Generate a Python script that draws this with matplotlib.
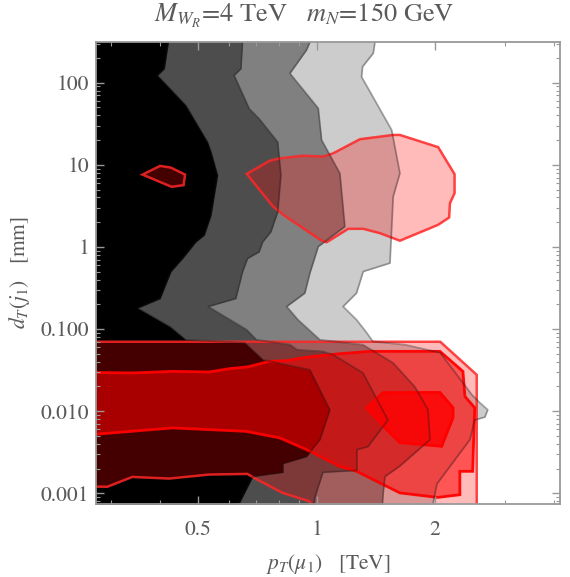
import matplotlib
matplotlib.use("Agg")
import matplotlib.pyplot as plt
from matplotlib.ticker import FixedLocator, NullFormatter

plt.rcParams['font.family'] = ['STIXGeneral', 'DejaVu Serif']
plt.rcParams['mathtext.fontset'] = 'stix'

# background shading: contour edges as (d_T [mm], p_T [TeV]) from top to bottom
b1_dT = [450, 313, 148, 123, 53.2, 19.0, 14.4, 7.48, 2.44, 1.39, 1.15, 0.722, 0.498, 0.235,
         0.180, 0.107, 0.074, 0.068, 0.0423, 0.0319, 0.0104, 0.0045, 0.0028, 0.0023, 0.0018,
         0.0016, 0.00078, 0.00055]
b1_pT = [0.420, 0.420, 0.410, 0.394, 0.465, 0.528, 0.539, 0.560, 0.539, 0.518, 0.493, 0.456,
         0.426, 0.400, 0.351, 0.424, 0.465, 0.657, 0.730, 0.961, 1.080, 1.019, 0.942, 0.821,
         0.821, 0.688, 0.638, 0.631]

b2_dT = [450, 313, 148, 123, 48.3, 36.5, 19.0, 7.48, 2.67, 1.53, 1.15, 0.871, 0.722, 0.498,
         0.235, 0.188, 0.142, 0.098, 0.074, 0.0644, 0.0560, 0.0533, 0.0487, 0.0293, 0.0078,
         0.0037, 0.0034, 0.0019, 0.0018, 0.00090, 0.00055]
b2_pT = [0.649, 0.648, 0.642, 0.617, 0.674, 0.714, 0.796, 0.811, 0.796, 0.765, 0.729, 0.714,
         0.667, 0.648, 0.623, 0.530, 0.584, 0.664, 0.703, 0.855, 0.891, 1.037, 1.099, 1.310,
         1.517, 1.349, 1.265, 1.265, 1.037, 0.990, 0.978]

b3_dT = [450, 313, 250, 130, 48.9, 20.1, 7.90, 1.77, 1.01, 0.480, 0.274, 0.188, 0.130, 0.074,
         0.0644, 0.0388, 0.0198, 0.0104, 0.0045, 0.00215, 0.0016, 0.0010, 0.00055]
b3_pT = [0.961, 0.961, 0.942, 0.855, 1.009, 1.029, 1.145, 1.179, 1.009, 0.961, 0.933, 0.839,
         0.896, 1.019, 1.310, 1.562, 1.775, 1.917, 1.940, 1.627, 1.491, 1.475, 1.463]

b4_dT = [450, 313, 228, 157, 118, 26.6, 7.90, 4.10, 0.635, 0.502, 0.274, 0.188, 0.130, 0.090,
         0.0706, 0.0644, 0.0514, 0.0158, 0.0126, 0.0104, 0.00847, 0.0078, 0.0045, 0.0013,
         0.00073, 0.00055]
b4_pT = [1.406, 1.406, 1.392, 1.308, 1.300, 1.550, 1.627, 1.564, 1.535, 1.313, 1.262, 1.167,
         1.262, 1.340, 1.389, 1.675, 2.06, 2.48, 2.60, 2.72, 2.675, 2.52, 2.45, 2.02, 1.973, 1.973]

gray_levels = ['#cccccc', '#808080', '#4d4d4d', '#000000']

# signal regions (red), closed polygons
small_pT = [0.361, 0.400, 0.426, 0.463, 0.459, 0.428]
small_dT = [7.60, 9.70, 9.25, 7.60, 5.65, 5.39]

upper_pT = [0.664, 0.760, 0.806, 0.924, 1.039, 1.101, 1.288, 1.564, 1.627, 2.035, 2.24, 2.24,
            2.18, 2.17, 2.035, 1.627, 1.448, 1.313, 1.202, 1.060, 1.029, 0.822, 0.775]
upper_dT = [7.75, 11.2, 12.0, 12.9, 12.6, 13.8, 20.5, 23.1, 23.1, 16.4, 7.69, 4.51,
            3.41, 2.28, 1.86, 1.19, 1.47, 1.66, 1.66, 1.14, 1.19, 2.46, 3.10]

outer_pT = [0.25, 2.06, 2.55, 2.55, 1.03, 0.957, 0.819, 0.700, 0.667, 0.533, 0.422, 0.340, 0.294, 0.25]
outer_dT = [0.070, 0.070, 0.0277, 0.0005, 0.0005, 0.00080, 0.00101, 0.0015, 0.00172, 0.00169,
            0.00151, 0.00158, 0.00120, 0.00121]

band_pT = [0.25, 0.340, 0.430, 0.533, 0.599, 0.667, 0.757, 0.835, 0.939, 1.124, 1.365, 2.056,
           2.352, 2.380, 2.52, 2.49, 2.31, 2.31, 2.03, 1.627, 1.473, 1.263, 1.145, 0.943,
           0.806, 0.661, 0.430, 0.25]
band_dT = [0.0297, 0.0292, 0.0305, 0.0300, 0.0329, 0.0345, 0.0404, 0.0411, 0.0452, 0.0497,
           0.0535, 0.0535, 0.0305, 0.0151, 0.0110, 0.00185, 0.00185, 0.00096, 0.00089, 0.00101,
           0.00128, 0.00185, 0.00213, 0.00340, 0.00472, 0.00568, 0.00625, 0.00504]

core_pT = [1.339, 1.473, 2.056, 2.22, 2.22, 2.077, 1.627, 1.505]
core_dT = [0.0109, 0.0168, 0.0169, 0.0110, 0.00834, 0.00373, 0.00414, 0.00596]

fig = plt.figure(figsize=(5.70, 5.77), dpi=100)
ax = fig.add_axes([96 / 570, 73 / 577, 464 / 570, 462 / 577])
ax.set_xscale('log')
ax.set_yscale('log')

# gray layers, lightest first, each filled from the left edge to its contour
for (dT, pT), col in zip([(b4_dT, b4_pT), (b3_dT, b3_pT), (b2_dT, b2_pT), (b1_dT, b1_pT)],
                         gray_levels):
    ax.fill_betweenx(dT, 0.2, pT, color=col, lw=0)
for dT, pT in [(b4_dT, b4_pT), (b3_dT, b3_pT), (b2_dT, b2_pT), (b1_dT, b1_pT)]:
    ax.plot(pT, dT, color='#1a1a1a', alpha=0.35, lw=1.3)

# red regions
for pT, dT in [(upper_pT, upper_dT), (small_pT, small_dT), (outer_pT, outer_dT)]:
    ax.fill(pT, dT, facecolor=(1, 0, 0, 0.27), edgecolor=(1, 0.15, 0.15, 0.85), lw=1.8)
ax.fill(band_pT, band_dT, facecolor=(1, 0, 0, 0.54), edgecolor=(1, 0, 0, 0.95), lw=2.0)
ax.fill(core_pT, core_dT, facecolor=(1, 0, 0, 0.8), edgecolor=(1, 0, 0, 1), lw=2.0)

ax.set_xlim(0.275, 4.15)
ax.set_ylim(0.00074, 313)

tick_col = '#5a5a5a'
ax.xaxis.set_major_locator(FixedLocator([0.5, 1, 2]))
ax.xaxis.set_minor_locator(FixedLocator([0.3, 0.4, 0.6, 0.7, 0.8, 0.9, 3, 4]))
ax.set_xticklabels(['0.5', '1', '2'])
ax.xaxis.set_minor_formatter(NullFormatter())
ax.yaxis.set_major_locator(FixedLocator([0.001, 0.01, 0.1, 1, 10, 100]))
ax.yaxis.set_minor_locator(FixedLocator([m * 10.0 ** e for e in range(-4, 3) for m in range(2, 10)]))
ax.set_yticklabels(['0.001', '0.010', '0.100', '1', '10', '100'])
ax.yaxis.set_minor_formatter(NullFormatter())
ax.tick_params(which='both', direction='in', top=True, right=True, color='#999999',
               labelsize=15.5, labelcolor=tick_col)
ax.tick_params(which='major', length=6, width=1)
ax.tick_params(which='minor', length=3, width=0.8)
ax.tick_params(axis='x', pad=12)
ax.tick_params(axis='y', pad=5)
for s in ax.spines.values():
    s.set_color('#999999')
    s.set_linewidth(1.3)

ax.set_xlabel(r'$p_T(\mu_1)$   [TeV]', fontsize=15.5, color=tick_col, labelpad=8)
ax.set_ylabel(r'$d_T(j_1)$   [mm]', fontsize=15.5, color=tick_col, labelpad=6)
fig.text(0.533, 0.972, r'$M_{W_R}$=4 TeV   $m_N$=150 GeV', fontsize=19, color=tick_col,
         ha='center', va='center')

fig.savefig('out.png', dpi=100)
